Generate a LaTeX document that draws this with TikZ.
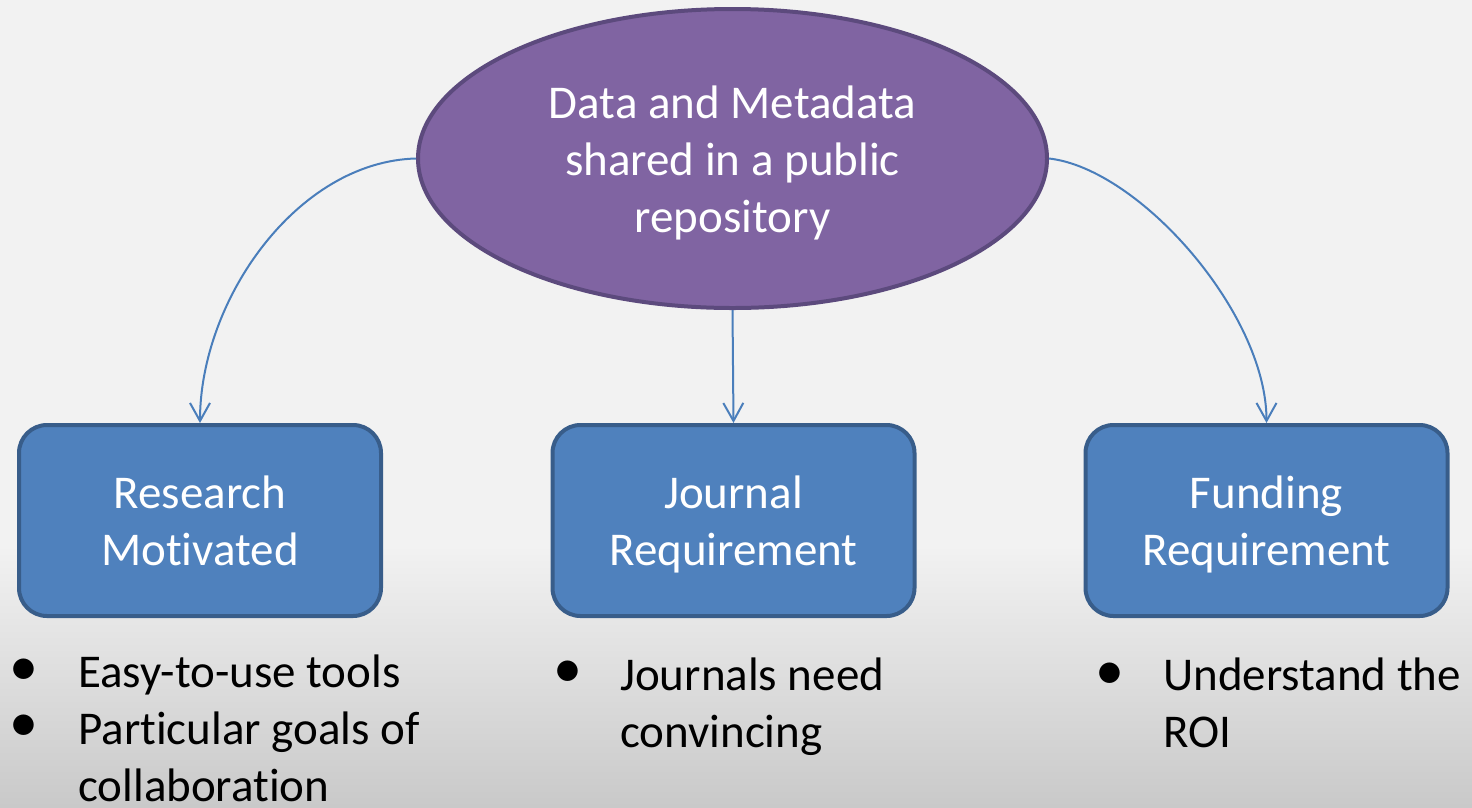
\documentclass[tikz,border=0pt]{standalone}
\usepackage{fontspec}
\setmainfont{Carlito}[Ligatures=NoCommon]
\usetikzlibrary{arrows.meta,shapes.geometric}
\definecolor{bgtop}{HTML}{F2F2F2}
\definecolor{bgbot}{HTML}{C9C9C9}
\definecolor{ellfill}{HTML}{8064A2}
\definecolor{elldraw}{HTML}{5C4A7D}
\definecolor{boxfill}{HTML}{4F81BD}
\definecolor{boxdraw}{HTML}{385D8A}
\definecolor{conn}{HTML}{4A7EBB}
\newcommand\topstrut{\rule{0pt}{47pt}}
\newcommand\botstrut{\rule[-14pt]{0pt}{14pt}}
\begin{document}
\begin{tikzpicture}[x=1pt,y=-1pt,
  every node/.style={font=\fontsize{47}{57}\selectfont},
  rootnode/.style={ellipse, draw=elldraw, fill=ellfill, line width=4pt, minimum width=629pt, minimum height=299pt, inner sep=0pt, text=white, align=center},
  reqbox/.style={rectangle, rounded corners=28pt, draw=boxdraw, fill=boxfill, line width=4pt, minimum width=362pt, minimum height=191pt, inner sep=0pt, text=white, align=center},
  link/.style={draw=conn, line width=2pt, -{Straight Barb[length=18pt,width=20pt]}},
  bullettext/.style={anchor=north west, inner sep=0pt, align=left, text=black},
  bulletmark/.style={anchor=base, inner sep=0pt, text=black, font=\fontsize{58}{60}\selectfont}
]
\useasboundingbox (0,0) rectangle (1472,807);
\fill[bgtop] (0,0) rectangle (1472,546);
\shade[top color=bgtop, bottom color=bgbot] (0,545) rectangle (1472,807);

\node[rootnode] (root) at (732.5,158.5) {\topstrut Data and Metadata\\shared in a public\\repository\botstrut};
\node[reqbox] (research) at (200,520.5) {\topstrut Research\\Motivated\botstrut};
\node[reqbox] (journal) at (733.5,520.5) {\topstrut Journal\\Requirement\botstrut};
\node[reqbox] (funding) at (1266.5,520.5) {\topstrut Funding\\Requirement\botstrut};

\draw[link] (root.west) .. controls +(-119,3) and +(0,-123) .. (research.north);
\draw[link] (root.south) -- (journal.north);
\draw[link] (root.east) .. controls +(90,10) and +(0,-110) .. (funding.north);

\node[bulletmark] (bA) at (24,685) {•};
\node[bulletmark] (bB) at (24,741) {•};
\node[bulletmark] (bC) at (568,687) {•};
\node[bulletmark] (bD) at (1110,689) {•};

\node[bullettext] (listA) at (78,640) {\topstrut Easy-to-use tools\\Particular goals of\\collaboration};
\node[bullettext] (listB) at (620,643) {\topstrut Journals need\\convincing};
\node[bullettext] (listC) at (1163,643) {\topstrut Understand the\\ROI};
\end{tikzpicture}
\end{document}
